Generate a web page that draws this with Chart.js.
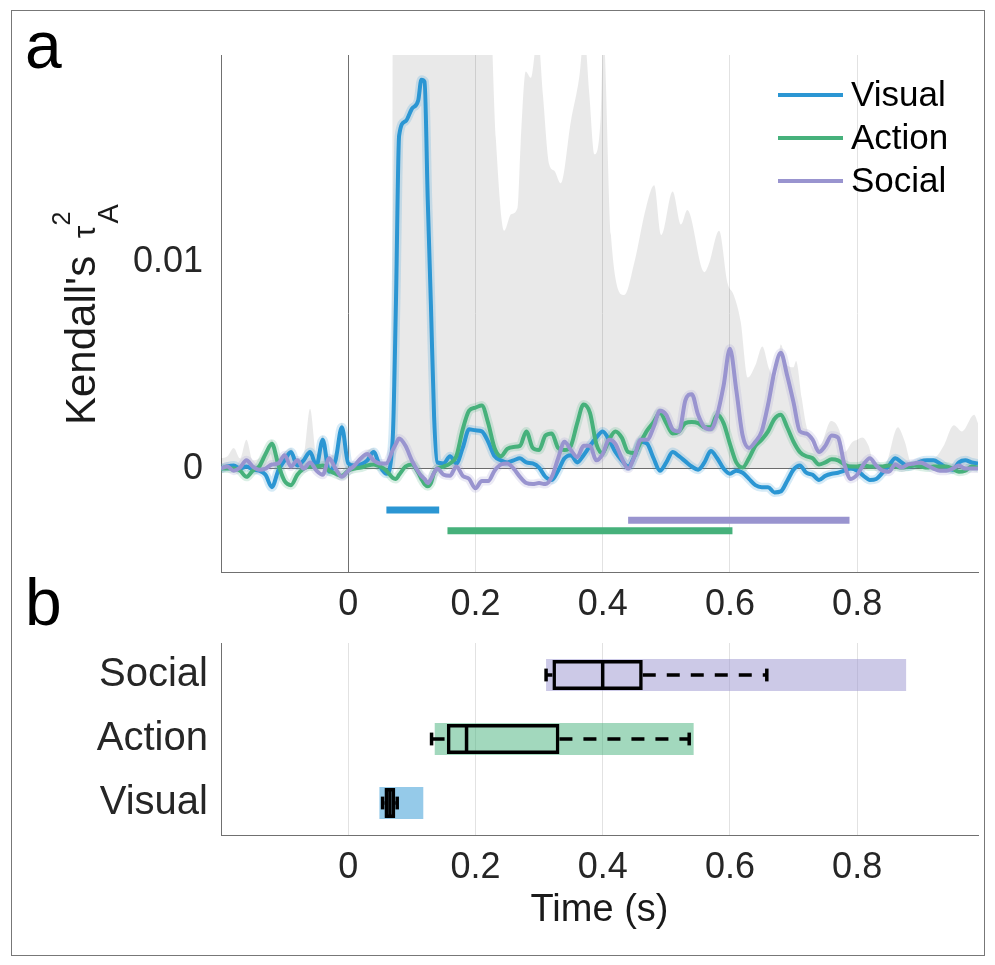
<!DOCTYPE html>
<html lang="en">

<head>
    <meta charset="UTF-8">
    <title>Kendall's tau time course</title>
    <script src="https://cdn.jsdelivr.net/npm/chart.js"></script>
    <style>
        body { margin: 0; background: #fff; }
        #fig { position: relative; width: 995px; height: 965px; overflow: hidden; font-family: "Liberation Sans", Arial, sans-serif; }
        #frame { position: absolute; left: 11px; top: 10px; width: 972px; height: 944px; border: 1px solid #777; }
        .panel { position: absolute; left: 25px; font-size: 66px; line-height: 66px; color: #000; }
        canvas { position: absolute; left: 0; }
    </style>
</head>

<body>
    <div id="fig">
        <div id="frame"></div>
        <canvas id="chartA" width="995" height="630" style="top:0"></canvas>
        <canvas id="chartB" width="995" height="335" style="top:630px"></canvas>
        <div class="panel" style="top:12px">a</div>
        <div class="panel" style="top:569px">b</div>
    </div>
</body>

</html>

<script>
    // ---- panel a : time courses ----
    const time = [
        -0.20, -0.19, -0.18, -0.17, -0.16, -0.15, -0.14, -0.13, -0.12, -0.11,
        -0.10, -0.09, -0.08, -0.07, -0.06, -0.05, -0.04, -0.03, -0.02, -0.01,
        0.00, 0.01, 0.02, 0.03, 0.04, 0.05, 0.06, 0.07, 0.075, 0.08,
        0.09, 0.10, 0.11, 0.115, 0.12, 0.125, 0.13, 0.135, 0.14, 0.15,
        0.16, 0.17, 0.18, 0.19, 0.20, 0.21, 0.22, 0.23, 0.24, 0.25,
        0.26, 0.27, 0.28, 0.29, 0.30, 0.31, 0.32, 0.33, 0.34, 0.35,
        0.36, 0.37, 0.38, 0.39, 0.40, 0.41, 0.42, 0.43, 0.44, 0.45,
        0.46, 0.47, 0.48, 0.49, 0.50, 0.51, 0.52, 0.53, 0.54, 0.55,
        0.56, 0.57, 0.58, 0.59, 0.60, 0.61, 0.62, 0.63, 0.64, 0.65,
        0.66, 0.67, 0.68, 0.69, 0.70, 0.71, 0.72, 0.73, 0.74, 0.75,
        0.76, 0.77, 0.78, 0.79, 0.80, 0.81, 0.82, 0.83, 0.84, 0.85,
        0.86, 0.87, 0.88, 0.89, 0.90, 0.91, 0.92, 0.93, 0.94, 0.95,
        0.96, 0.97, 0.98, 0.99
    ]

    const visual = [
        0.0000, 0.0001, 0.00015, 0.0000, 0.0001, -0.00005, -0.0001, -0.0003, -0.0009, -0.0001,
        0.0004, 0.0008, 0.00015, 0.0004, 0.0008, 0.00015, 0.0014, -0.00015, 0.0004, 0.0020,
        0.00025, 0.00015, 0.0002, 0.0004, 0.0008, 0.0001, -0.00025, 0.0015, 0.0080, 0.0161,
        0.0168, 0.0174, 0.0178, 0.0188, 0.0187, 0.0130, 0.0079, 0.0025, 0.0003, 0.00025,
        0.0006, 0.00025, 0.0010, 0.0019, 0.00185, 0.0018, 0.0013, 0.0006, 0.0004, 0.0003,
        0.0004, 0.0005, 0.0003, 0.00025, 0.00005, -0.0004, -0.00055, -0.0001, 0.0005, 0.00065,
        0.0003, 0.00065, 0.0011, 0.0015, 0.0018, 0.0014, 0.0008, 0.0004, 0.0001, 0.0006,
        0.0013, 0.0012, 0.0005, -0.0001, 0.0003, 0.0008, 0.0006, 0.00035, 0.0001, -0.00005,
        0.0003, 0.00085, 0.0005, 0.0000, -0.00025, -0.0001, -0.0002, -0.0005, -0.0008, -0.0009,
        -0.0009, -0.00115, -0.0011, -0.0006, -0.00005, 0.00015, -0.0002, -0.0003, -0.00055, -0.00035,
        -0.00025, -0.0002, -0.0001, 0.0000, -0.0001, -0.00035, -0.00055, -0.0005, -0.0002, 0.00015,
        0.0005, 0.0003, 0.0001, 0.0002, 0.00035, 0.0004, 0.0004, 0.00025, 0.00005, -0.00005,
        0.0003, 0.0004, 0.0003, 0.00025
    ]

    const action = [
        0.0000, 0.0000, 0.0000, -0.0001, -0.0004, -0.0001, 0.0001, 0.0007, 0.0012, 0.0002,
        -0.0006, -0.0008, -0.0003, 0.0000, 0.0001, 0.0001, 0.00015, -0.0001, -0.00025, -0.00035,
        -0.0001, 0.0000, 0.00005, 0.00015, 0.0002, 0.0001, -0.0001, -0.00045, -0.0005, -0.0003,
        0.0001, 0.0002, -0.0002, -0.0005, -0.00075, -0.00085, -0.0007, -0.0002, 0.0000, 0.0001,
        0.00025, 0.0006, 0.0019, 0.0028, 0.00295, 0.00305, 0.0022, 0.0010, 0.0006, 0.00095,
        0.00105, 0.0011, 0.0018, 0.0010, 0.0009, 0.0016, 0.0017, 0.0010, 0.0009, 0.0011,
        0.0022, 0.0031, 0.0027, 0.0012, 0.00075, 0.0014, 0.0018, 0.0015, 0.0008, 0.00075,
        0.0013, 0.00185, 0.00225, 0.0027, 0.0022, 0.0017, 0.0018, 0.0022, 0.00225, 0.0022,
        0.0020, 0.0020, 0.0026, 0.0022, 0.0012, 0.0003, 0.00005, 0.0005, 0.0011, 0.0014,
        0.0018, 0.0024, 0.0026, 0.0020, 0.0013, 0.0008, 0.0006, 0.0005, 0.0002, 0.0003,
        0.00045, 0.0004, 0.0002, 0.0001, 0.0001, 0.00015, 0.0001, 0.0001, 0.0001, 0.00015,
        0.0001, 0.00005, 0.0001, 0.00015, 0.0001, 0.00005, 0.0001, 0.0001, 0.0001, 0.0000,
        -0.00015, -0.0001, 0.0001, 0.00005
    ]

    const social = [
        0.0000, 0.0001, -0.0001, 0.00005, 0.0004, 0.0001, -0.00005, 0.0000, 0.0002, 0.00025,
        0.00065, 0.0001, 0.0004, 0.0000, 0.0003, -0.0001, -0.0003, 0.0005, 0.0000, -0.0004,
        -0.0001, 0.00015, 0.0005, 0.0007, 0.0004, 0.00025, 0.00025, 0.0009, 0.0012, 0.00145,
        0.0011, 0.0004, -0.00015, -0.00035, -0.0005, -0.0007, -0.0005, -0.0002, 0.0000, -0.0003,
        -0.00035, 0.0001, -0.00035, -0.0005, -0.00095, -0.0006, -0.0006, -0.0001, 0.0002, 0.00025,
        0.0000, -0.0004, -0.0007, -0.00075, -0.0007, -0.00075, -0.0004, 0.0005, 0.0013, 0.0009,
        0.00055, 0.0011, 0.0011, 0.0004, 0.0007, 0.0014, 0.0012, 0.0005, 0.0000, 0.0006,
        0.0014, 0.0014, 0.0020, 0.0028, 0.0026, 0.0019, 0.0018, 0.0033, 0.0036, 0.0026,
        0.0020, 0.0019, 0.0026, 0.0040, 0.0058, 0.0038, 0.0016, 0.0010, 0.0013, 0.0018,
        0.0031, 0.0047, 0.0056, 0.0045, 0.0032, 0.0018, 0.0017, 0.0014, 0.0008, 0.0011,
        0.0016, 0.0015, 0.0002, -0.0005, -0.0003, 0.0002, 0.0005, 0.00015, -0.0001, -0.00015,
        0.0002, 0.00005, 0.0002, 0.00025, 0.0003, 0.00015, 0.0000, -0.0001, -0.0001, 0.0000,
        0.00015, 0.0000, 0.0000, 0.0000
    ]

    // grey area (upper bound), filled down to zero
    const grayTime = [
        -0.20, -0.19, -0.18, -0.17, -0.16, -0.15, -0.14, -0.13, -0.12, -0.11,
        -0.10, -0.09, -0.08, -0.07, -0.06, -0.05, -0.04, -0.03, -0.02, -0.01,
        0.00, 0.01, 0.02, 0.03, 0.04, 0.05, 0.06,
        0.069, 0.070, 0.219, 0.232, 0.245, 0.256, 0.266, 0.271, 0.279, 0.287,
        0.298, 0.306, 0.316, 0.324, 0.334, 0.350, 0.363, 0.371, 0.379, 0.387,
        0.397, 0.401, 0.413, 0.434, 0.450, 0.468, 0.481, 0.492, 0.510, 0.523,
        0.533, 0.560, 0.567, 0.583, 0.596, 0.606, 0.617, 0.628, 0.640, 0.651,
        0.662, 0.672, 0.680, 0.690, 0.700, 0.704, 0.713, 0.720, 0.733, 0.744,
        0.759, 0.772, 0.780, 0.793, 0.800, 0.808, 0.818, 0.828, 0.844, 0.864,
        0.875, 0.885, 0.900, 0.915, 0.925, 0.936, 0.952, 0.965, 0.984, 0.990
    ]
    const grayUpper = [
        0.0005, 0.0006, 0.0010, 0.0005, 0.0014, 0.0004, 0.0005, 0.0009, 0.0014, 0.0005,
        0.0008, 0.0010, 0.0005, 0.0007, 0.0029, 0.0007, 0.0016, 0.0006, 0.0008, 0.0022,
        0.0005, 0.0003, 0.0006, 0.0009, 0.0010, 0.0004, 0.0003,
        0.0003, 0.025, 0.025, 0.0160, 0.0115, 0.0123, 0.0126, 0.0157, 0.0192, 0.0189,
        0.021, 0.0181, 0.0147, 0.0144, 0.0138, 0.0168, 0.0189, 0.021, 0.0181, 0.0152,
        0.0171, 0.021, 0.0113, 0.0084, 0.0100, 0.0126, 0.0137, 0.0113, 0.0134, 0.0118,
        0.0125, 0.0095, 0.0099, 0.0115, 0.0090, 0.0084, 0.0071, 0.0044, 0.0050, 0.0059,
        0.0048, 0.0044, 0.0060, 0.0050, 0.0049, 0.0052, 0.0034, 0.0021, 0.0010, 0.0012,
        0.0023, 0.00185, 0.0008, 0.0013, 0.0014, 0.0015, 0.0011, 0.0001, 0.0002, 0.0020,
        0.0013, 0.0003, 0.0005, 0.0005, 0.0006, 0.0011, 0.0021, 0.0018, 0.0026, 0.0022
    ]

    // significance bars under the curves
    const sigStart = [0.060, 0.156, 0.440]
    const sigEnd = [0.143, 0.604, 0.788]
    const sigLevel = [-0.0020, -0.0030, -0.0025]

    const xTicks = [0, 0.2, 0.4, 0.6, 0.8]
    const yTicksA = [0, 0.01]

    // ---- panel b : onset latencies ----
    const boxCats = ['Visual', 'Action', 'Social']
    const rangeLo = [0.049, 0.136, 0.311]
    const rangeHi = [0.118, 0.543, 0.877]
    const whiskLo = [0.054, 0.131, 0.311]
    const q1 = [0.057, 0.155, 0.321]
    const median = [0.0655, 0.186, 0.400]
    const q3 = [0.074, 0.332, 0.463]
    const whiskHi = [0.077, 0.536, 0.658]

    const seriesNames = ['Visual', 'Action', 'Social']
    const seriesRGB = ['43,150,211', '70,177,123', '153,148,207']
    const seriesValues = [visual, action, social]

    const FONT = '"Liberation Sans", Arial, Helvetica, sans-serif'
    Chart.defaults.font.family = FONT
    Chart.defaults.color = '#262626'

    const toPoints = (xs, ys) => xs.map((x, i) => ({ x: x, y: ys[i] }))

    // ---------- chart a ----------
    var datasetsA = [{
        label: 'ceiling',
        data: toPoints(grayTime, grayUpper),
        fill: 'origin',
        backgroundColor: 'rgba(0,0,0,0.085)',
        borderWidth: 0,
        pointRadius: 0,
        cubicInterpolationMode: 'monotone',
        order: 30
    }]

    seriesNames.forEach((name, k) => {
        datasetsA.push({
            label: name + ' ci',
            data: toPoints(time, seriesValues[k]),
            borderColor: `rgba(${seriesRGB[k]},0.2)`,
            borderWidth: 9,
            pointRadius: 0,
            fill: false,
            cubicInterpolationMode: 'monotone',
            clip: 0,
            order: 20 - k
        })
        datasetsA.push({
            label: name,
            data: toPoints(time, seriesValues[k]),
            borderColor: `rgb(${seriesRGB[k]})`,
            borderWidth: 4,
            pointRadius: 0,
            fill: false,
            cubicInterpolationMode: 'monotone',
            clip: 0,
            order: 3 - k
        })
        datasetsA.push({
            label: name + ' sig',
            data: [{ x: sigStart[k], y: sigLevel[k] }, { x: sigEnd[k], y: sigLevel[k] }],
            borderColor: `rgb(${seriesRGB[k]})`,
            borderWidth: 7,
            borderCapStyle: 'butt',
            pointRadius: 0,
            fill: false,
            order: 5
        })
    })

    // legend drawn in the upper right corner of the plot
    const lineLegend = {
        id: 'lineLegend',
        afterDraw(chart) {
            const { ctx, chartArea } = chart
            ctx.save()
            ctx.font = '35px ' + FONT
            ctx.textBaseline = 'middle'
            ctx.textAlign = 'left'
            seriesNames.forEach((name, i) => {
                const y = chartArea.top + 40 + i * 43
                ctx.strokeStyle = `rgb(${seriesRGB[i]})`
                ctx.lineWidth = 4
                ctx.beginPath()
                ctx.moveTo(chartArea.right - 200, y)
                ctx.lineTo(chartArea.right - 135, y)
                ctx.stroke()
                ctx.fillStyle = '#000'
                ctx.fillText(name, chartArea.right - 127, y + 1)
            })
            ctx.restore()
        }
    }

    // y label with tau, superscript 2 and subscript A
    const yTitle = {
        id: 'yTitle',
        afterDraw(chart) {
            const { ctx, chartArea } = chart
            ctx.save()
            ctx.translate(chartArea.left - 126, 425)
            ctx.rotate(-Math.PI / 2)
            ctx.fillStyle = '#1a1a1a'
            ctx.textBaseline = 'alphabetic'
            ctx.textAlign = 'left'
            ctx.font = '42px ' + FONT
            ctx.fillText("Kendall's", 0, 0)
            var u = ctx.measureText("Kendall's ").width + 6
            ctx.font = '32px ' + FONT
            ctx.fillText('\u03C4', u, 0)
            u += ctx.measureText('\u03C4').width
            ctx.font = '25px ' + FONT
            ctx.fillText('2', u, -25)
            ctx.font = '29px ' + FONT
            ctx.fillText('A', u + 2, 23)
            ctx.restore()
        }
    }

    new Chart(document.getElementById('chartA'), {
        type: 'line',
        data: { datasets: datasetsA },
        plugins: [lineLegend, yTitle],
        options: {
            responsive: false,
            animation: false,
            events: [],
            layout: { padding: { top: 55, right: 17, left: 0, bottom: 0 } },
            plugins: { legend: { display: false }, tooltip: { enabled: false } },
            scales: {
                x: {
                    type: 'linear',
                    min: -0.2,
                    max: 0.99,
                    afterBuildTicks: s => { s.ticks = xTicks.map(v => ({ value: v })) },
                    afterFit: s => { s.height = 58 },
                    grid: {
                        color: c => (c.tick && c.tick.value === 0) ? '#707070' : '#e2e2e2',
                        drawTicks: false
                    },
                    border: { color: '#707070', width: 1 },
                    ticks: { padding: 11, font: { size: 36 }, color: '#262626', callback: v => String(v) }
                },
                y: {
                    type: 'linear',
                    min: -0.005,
                    max: 0.02,
                    afterBuildTicks: s => { s.ticks = yTicksA.map(v => ({ value: v })) },
                    afterFit: s => { s.width = 221 },
                    grid: {
                        color: c => (c.tick && c.tick.value === 0) ? '#707070' : 'rgba(0,0,0,0)',
                        drawTicks: false
                    },
                    border: { color: '#707070', width: 1 },
                    ticks: { padding: 18, font: { size: 36 }, color: '#262626', callback: v => String(v) }
                }
            }
        }
    })

    // ---------- chart b ----------
    const pos = boxCats.map((c, i) => i + 1)

    var datasetsB = [{
        type: 'bar',
        data: pos.map((p, i) => ({ y: p, x: [rangeLo[i], rangeHi[i]] })),
        backgroundColor: seriesRGB.map(c => `rgba(${c},0.5)`),
        borderWidth: 0,
        barPercentage: 0.5,
        categoryPercentage: 1,
        grouped: false,
        order: 10
    }, {
        type: 'bar',
        data: pos.map((p, i) => ({ y: p, x: [q1[i], q3[i]] })),
        backgroundColor: 'rgba(0,0,0,0)',
        borderColor: '#000',
        borderWidth: 3.5,
        borderSkipped: false,
        barPercentage: 0.47,
        categoryPercentage: 1,
        grouped: false,
        order: 2
    }]

    function segment(points, dash) {
        return {
            type: 'line',
            data: points,
            borderColor: '#000',
            borderWidth: 3.5,
            borderDash: dash || [],
            borderCapStyle: 'butt',
            pointRadius: 0,
            fill: false,
            order: 1
        }
    }

    pos.forEach((p, i) => {
        datasetsB.push(segment([{ x: q3[i], y: p }, { x: whiskHi[i], y: p }], [13, 11]))
        datasetsB.push(segment([{ x: whiskLo[i], y: p }, { x: q1[i], y: p }], [13, 11]))
        datasetsB.push(segment([{ x: median[i], y: p - 0.22 }, { x: median[i], y: p + 0.22 }]))
        datasetsB.push(segment([{ x: whiskLo[i], y: p - 0.1 }, { x: whiskLo[i], y: p + 0.1 }]))
        datasetsB.push(segment([{ x: whiskHi[i], y: p - 0.1 }, { x: whiskHi[i], y: p + 0.1 }]))
    })

    new Chart(document.getElementById('chartB'), {
        type: 'bar',
        data: { datasets: datasetsB },
        options: {
            indexAxis: 'y',
            responsive: false,
            animation: false,
            events: [],
            layout: { padding: { top: 13, right: 17, left: 0, bottom: 0 } },
            plugins: { legend: { display: false }, tooltip: { enabled: false } },
            scales: {
                x: {
                    type: 'linear',
                    min: -0.2,
                    max: 0.99,
                    afterBuildTicks: s => { s.ticks = xTicks.map(v => ({ value: v })) },
                    afterFit: s => { s.height = 130 },
                    grid: { color: '#e2e2e2', drawTicks: false },
                    border: { color: '#707070', width: 1 },
                    ticks: { padding: 11, font: { size: 36 }, color: '#262626', callback: v => String(v) },
                    title: {
                        display: true,
                        text: 'Time (s)',
                        font: { size: 38 },
                        color: '#1a1a1a',
                        padding: { top: 0, bottom: 32 }
                    }
                },
                y: {
                    type: 'linear',
                    min: 0.5,
                    max: 3.5,
                    offset: false,
                    afterBuildTicks: s => { s.ticks = pos.map(v => ({ value: v })) },
                    afterFit: s => { s.width = 221; s.paddingTop = 0; s.paddingBottom = 0 },
                    grid: { display: false, drawTicks: false, offset: false },
                    border: { color: '#707070', width: 1 },
                    ticks: { padding: 13, font: { size: 40 }, color: '#262626', callback: v => boxCats[v - 1] }
                }
            }
        }
    })
</script>
